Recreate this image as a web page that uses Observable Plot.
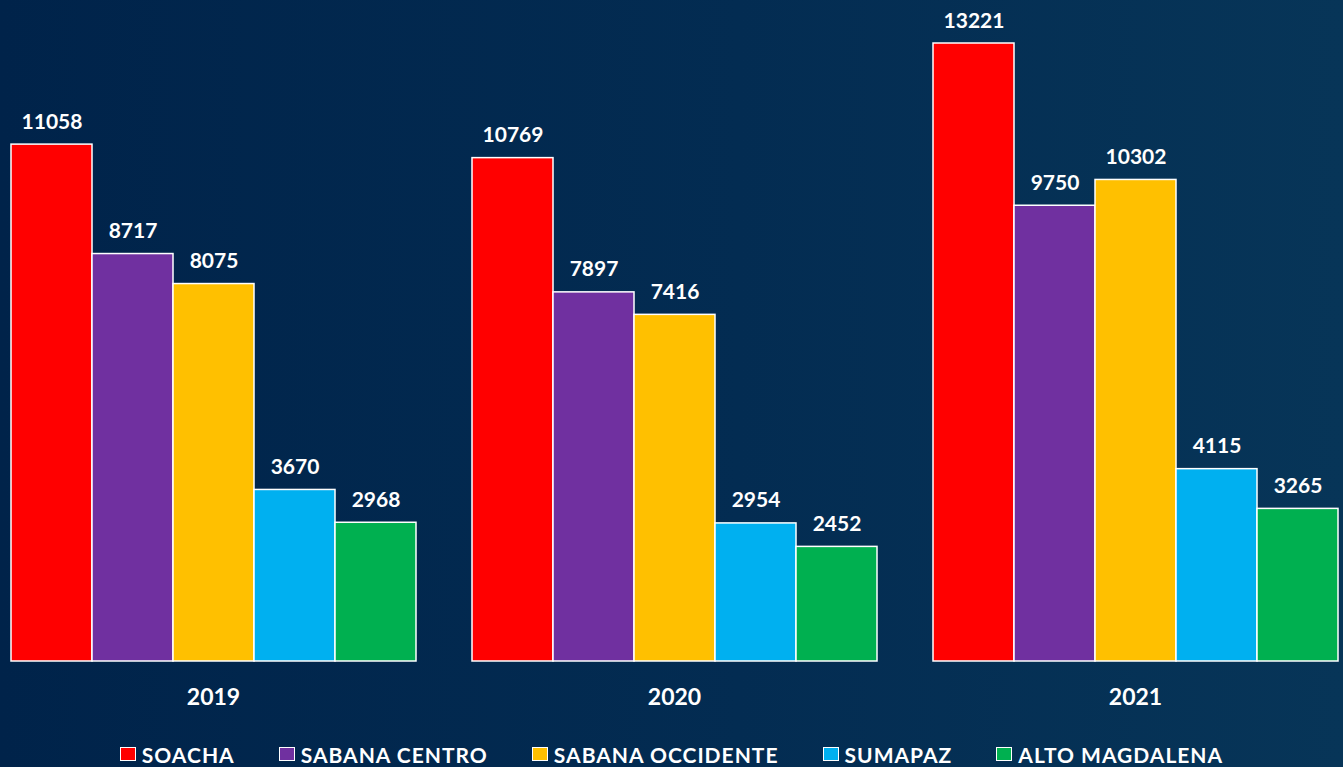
<!DOCTYPE html>
<html>
<head>
<meta charset="utf-8">
<script src="https://cdn.jsdelivr.net/npm/d3@7"></script>
<script src="https://cdn.jsdelivr.net/npm/@observablehq/plot@0.6"></script>
<style>
  html, body { margin: 0; padding: 0; }
  body {
    width: 1343px; height: 767px; overflow: hidden; position: relative;
    background: linear-gradient(to right, #00234a 0%, #032c52 55%, #073558 100%);
    font-family: Lato, "Open Sans", sans-serif;
  }
  #chart { position: absolute; left: 0; top: 0; }
  #legend {
    position: absolute; left: 0; top: 742px; width: 1343px; height: 24px;
    display: flex; justify-content: center; align-items: center; gap: 44px;
    color: white; font-weight: bold; font-size: 21px; letter-spacing: 1px;
  }
  .item { display: flex; align-items: center; white-space: nowrap; }
  .sw { width: 16px; height: 14px; border: 1.5px solid white; box-sizing: border-box; margin-right: 6px; }
</style>
</head>
<body>
<div id="chart"></div>
<div id="legend"></div>
<script>
const years = ["2019", "2020", "2021"];
const regions = ["SOACHA", "SABANA CENTRO", "SABANA OCCIDENTE", "SUMAPAZ", "ALTO MAGDALENA"];
const colors = ["#ff0000", "#7030a0", "#ffc000", "#00b0f0", "#00b050"];
const soacha = [11058, 10769, 13221];
const sabanaCentro = [8717, 7897, 9750];
const sabanaOccidente = [8075, 7416, 10302];
const sumapaz = [3670, 2954, 4115];
const altoMagdalena = [2968, 2452, 3265];

const series = [soacha, sabanaCentro, sabanaOccidente, sumapaz, altoMagdalena];
const rows = [];
years.forEach((yr, i) => {
  regions.forEach((r, j) => rows.push({year: yr, region: r, value: series[j][i]}));
});

const plot = Plot.plot({
  width: 1343,
  height: 728,
  marginLeft: 8,
  marginRight: 4,
  marginTop: 0,
  marginBottom: 67,
  style: {background: "transparent", color: "white", fontFamily: "Lato, 'Open Sans', sans-serif", fontSize: "23px", fontWeight: "bold"},
  facet: {data: rows, x: "year"},
  fx: {domain: years, paddingInner: 0.115, paddingOuter: 0, tickSize: 0, tickPadding: 27, label: null},
  x: {domain: regions, padding: 0, axis: null},
  y: {domain: [0, 14141], axis: null},
  color: {domain: regions, range: colors},
  marks: [
    Plot.barY(rows, {x: "region", y: "value", fill: "region", stroke: "white", strokeWidth: 1.5, inset: 0}),
    Plot.text(rows, {x: "region", y: "value", text: d => String(d.value), lineAnchor: "bottom", dy: -16, fill: "white", fontSize: 21, fontWeight: "bold"})
  ]
});
document.getElementById("chart").appendChild(plot);

const legend = document.getElementById("legend");
regions.forEach((r, j) => {
  const it = document.createElement("div");
  it.className = "item";
  const sw = document.createElement("span");
  sw.className = "sw";
  sw.style.background = colors[j];
  const lb = document.createElement("span");
  lb.textContent = r;
  it.appendChild(sw);
  it.appendChild(lb);
  legend.appendChild(it);
});
</script>
</body>
</html>
